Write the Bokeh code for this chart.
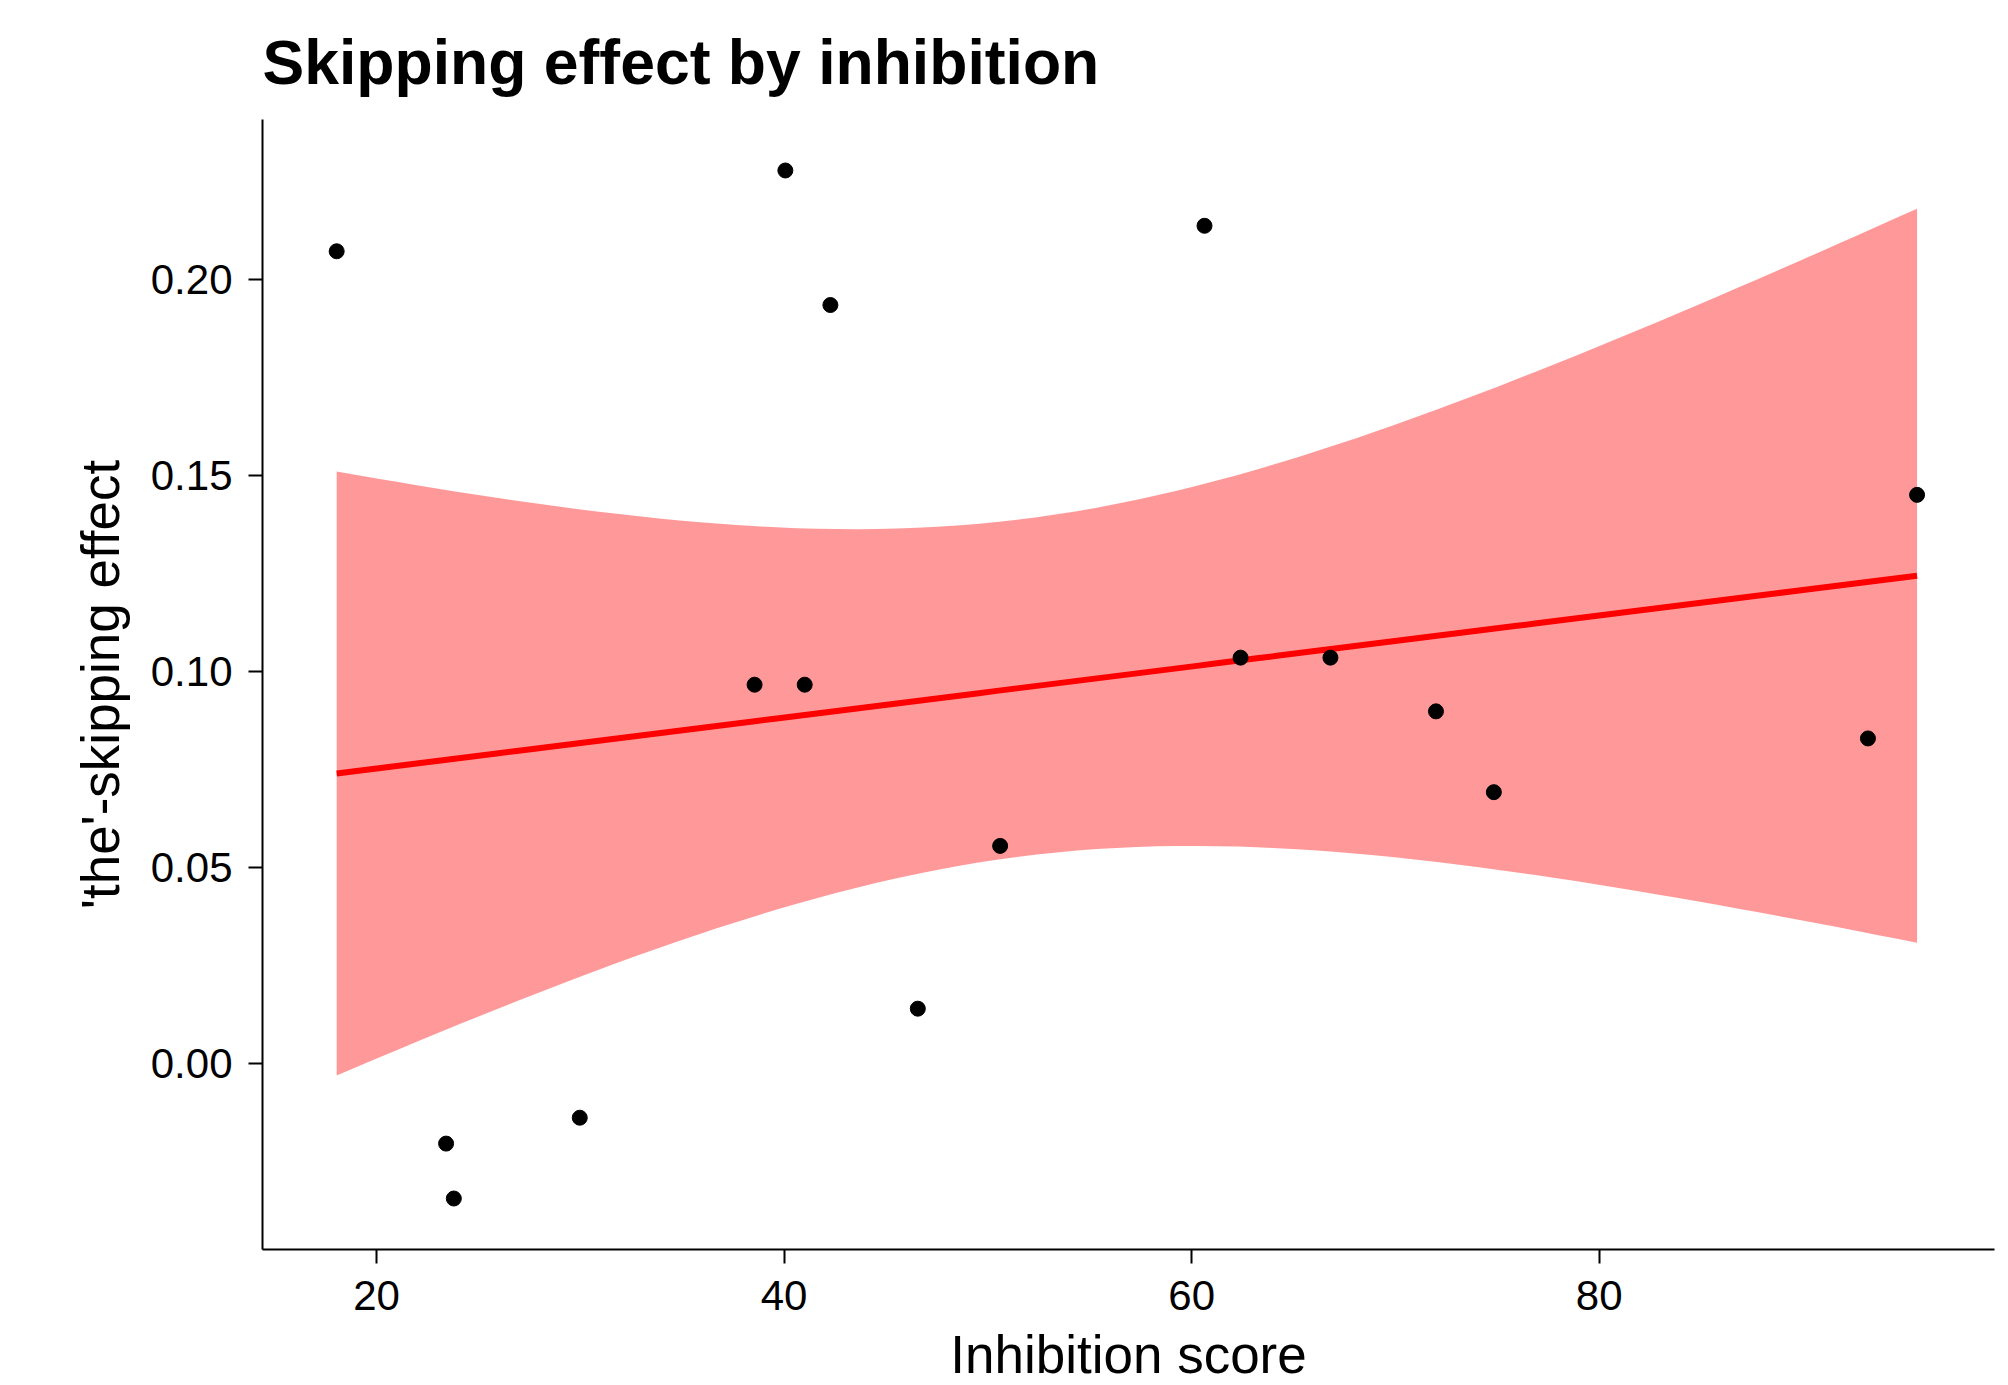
import numpy as np
from bokeh.plotting import figure
from bokeh.models import Range1d, FixedTicker
from bokeh.embed import file_html
from bokeh.resources import INLINE

# Data
inhibition = [18.04, 40.06, 42.27, 60.63, 38.55, 41.01, 62.40, 66.81, 71.99,
              74.83, 93.19, 95.60, 50.60, 46.56, 29.97, 23.41, 23.79]
skipping = [0.2072, 0.2278, 0.1935, 0.2137, 0.0967, 0.0967, 0.1036, 0.1036, 0.0899,
            0.0693, 0.0830, 0.1451, 0.0556, 0.0141, -0.0137, -0.0203, -0.0343]
x_ticks = [20, 40, 60, 80]
y_ticks = [0.00, 0.05, 0.10, 0.15, 0.20]
y_tick_labels = {0.0: "0.00", 0.05: "0.05", 0.1: "0.10", 0.15: "0.15", 0.2: "0.20"}
title_text = "Skipping effect by inhibition"

# Linear model fit with 95% confidence band (as geom_smooth(method="lm"))
x = np.array(inhibition)
y = np.array(skipping)
n = len(x)
xm, ym = x.mean(), y.mean()
sxx = ((x - xm) ** 2).sum()
slope = ((x - xm) * (y - ym)).sum() / sxx
intercept = ym - slope * xm
resid = y - (intercept + slope * x)
s = np.sqrt((resid ** 2).sum() / (n - 2))
t_crit = 2.131449546  # qt(0.975, 15)
xs = np.linspace(x.min(), x.max(), 80)
fit = intercept + slope * xs
se = s * np.sqrt(1.0 / n + (xs - xm) ** 2 / sxx)
lower = fit - t_crit * se
upper = fit + t_crit * se

p = figure(frame_width=1732, frame_height=1130, output_backend="svg",
           toolbar_location=None,
           x_range=Range1d(14.4, 99.4), y_range=Range1d(-0.0473, 0.2408),
           min_border_left=262, min_border_right=6, min_border_top=119,
           min_border_bottom=20, title=title_text)

p.varea(x=xs, y1=lower, y2=upper, fill_color="red", fill_alpha=0.4)
p.line(xs, fit, line_color="red", line_width=6)
p.scatter(inhibition, skipping, size=15, fill_color="black", line_color="black")

p.title.text_font = "Liberation Sans"
p.title.text_font_size = "62.5px"
p.title.text_font_style = "bold"
p.title.text_color = "black"
p.title.align = "left"
p.title.standoff = 46

p.xgrid.visible = False
p.ygrid.visible = False
p.outline_line_color = None
p.background_fill_color = "white"
p.border_fill_color = "white"

p.xaxis.ticker = FixedTicker(ticks=x_ticks)
p.yaxis.ticker = FixedTicker(ticks=y_ticks)
p.yaxis.major_label_overrides = y_tick_labels
p.xaxis.axis_label = "Inhibition score"
p.yaxis.axis_label = "'the'-skipping effect"

for ax in (p.xaxis, p.yaxis):
    ax.axis_line_color = "black"
    ax.axis_line_width = 2
    ax.major_tick_line_color = "black"
    ax.major_tick_line_width = 2
    ax.major_tick_out = 14
    ax.major_tick_in = 0
    ax.minor_tick_line_color = None
    ax.major_label_text_font = "Liberation Sans"
    ax.major_label_text_font_size = "42px"
    ax.major_label_text_color = "black"
    ax.axis_label_text_font = "Liberation Sans"
    ax.axis_label_text_font_size = "53px"
    ax.axis_label_text_font_style = "normal"
    ax.axis_label_text_color = "black"

p.yaxis.major_label_standoff = 16
p.xaxis.major_label_standoff = 17
p.yaxis.axis_label_standoff = 18
p.xaxis.axis_label_standoff = 12

open("out.html", "w").write(file_html(p, INLINE))
